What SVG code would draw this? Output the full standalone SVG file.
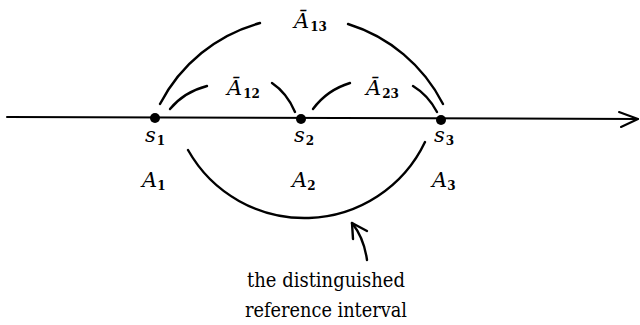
<svg xmlns="http://www.w3.org/2000/svg" width="640" height="325" viewBox="0 0 640 325">
<defs>
<style>
.ln{fill:none;stroke:#000;stroke-width:2.4;stroke-linecap:round;stroke-linejoin:round}
.ax{fill:none;stroke:#000;stroke-width:2;stroke-linecap:round;stroke-linejoin:round}
text{fill:#000}
.it{font-style:italic;font-size:21px}
.sub{font-style:normal;font-size:12px;font-weight:bold}
.cap{font-size:19.5px}
.dot{fill:#000}
</style>
</defs>
<rect width="640" height="325" fill="#fff"/>
<g id="axis">
<path class="ax" d="M7,117 L638,119"/>
<path class="ax" d="M619,112 L638,119 L621,127"/>
</g>
<g id="connectors">
<path class="ln" d="M160,104 A159.4,159.4 0 0 1 260,23"/>
<path class="ln" d="M348,24 A159.4,159.4 0 0 1 443,104"/>
<path class="ln" d="M170,109 Q184,92 207,86"/>
<path class="ln" d="M272,83 Q287,93 295,112"/>
<path class="ln" d="M313,109 Q327,90 350,83"/>
<path class="ln" d="M413,86 Q428,95 437,112"/>
<path class="ln" d="M188,150 A133.6,133.6 0 0 0 425,142"/>
<path class="ln" d="M367,260 Q364,238 352,223"/>
<path class="ln" d="M367,231 L352,223 L353,239"/>
</g>
<g font-family="'DejaVu Serif', serif">
<g id="s1">
<circle class="dot" cx="155" cy="118" r="5"/>
<text class="it" x="145" y="142">s<tspan class="sub" dx="1" dy="3">1</tspan></text>
</g>
<g id="s2">
<circle class="dot" cx="301" cy="119" r="5"/>
<text class="it" x="294" y="142">s<tspan class="sub" dx="1" dy="3">2</tspan></text>
</g>
<g id="s3">
<circle class="dot" cx="441" cy="120" r="5"/>
<text class="it" x="434" y="142">s<tspan class="sub" dx="1" dy="3">3</tspan></text>
</g>
<g id="A1"><text class="it" x="142" y="187">A<tspan class="sub" dy="3">1</tspan></text></g>
<g id="A2"><text class="it" x="292" y="187">A<tspan class="sub" dy="3">2</tspan></text></g>
<g id="A3"><text class="it" x="432" y="187">A<tspan class="sub" dy="3">3</tspan></text></g>
<g id="A13"><text class="it" x="294" y="28">Ā<tspan class="sub" dx="1" dy="3">13</tspan></text></g>
<g id="A12"><text class="it" x="227" y="95">Ā<tspan class="sub" dx="1" dy="3">12</tspan></text></g>
<g id="A23"><text class="it" x="366" y="95">Ā<tspan class="sub" dx="1" dy="3">23</tspan></text></g>
<g id="note">
<text class="cap" x="326" y="287" text-anchor="middle" textLength="158" lengthAdjust="spacingAndGlyphs">the distinguished</text>
<text class="cap" x="326" y="317" text-anchor="middle" textLength="162" lengthAdjust="spacingAndGlyphs">reference interval</text>
</g>
</g>
</svg>
